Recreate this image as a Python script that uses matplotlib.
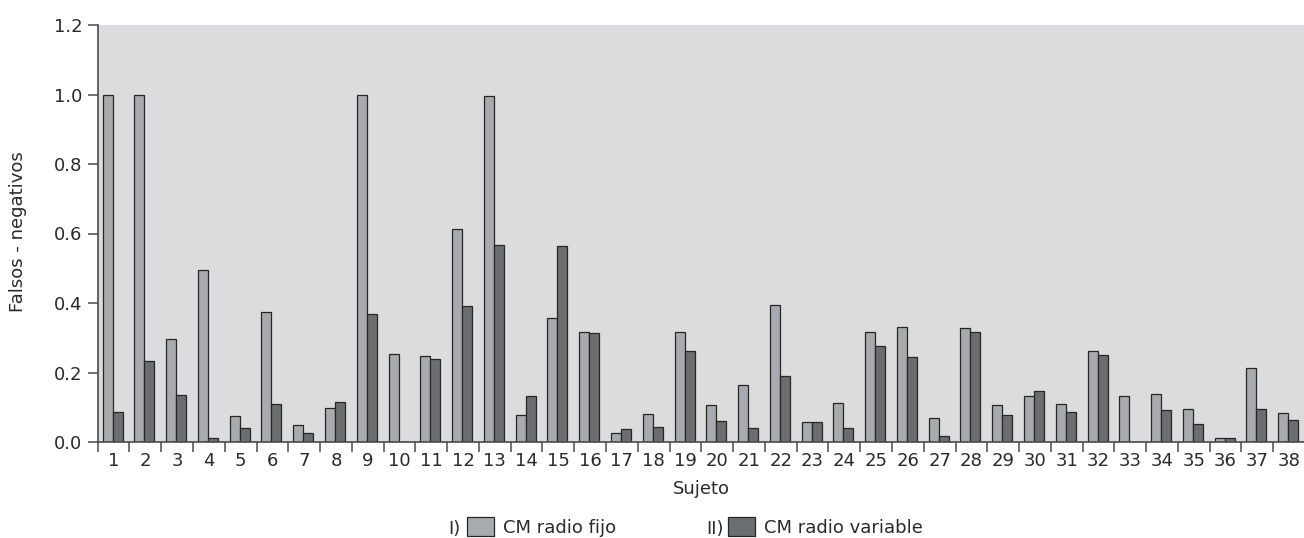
import numpy as np
import matplotlib
matplotlib.use("Agg")
import matplotlib.pyplot as plt
from matplotlib.ticker import FormatStrFormatter, FixedLocator

# Datos: falsos negativos por sujeto
sujetos = list(range(1, 39))
radio_fijo = [1.0, 1.0, 0.297, 0.495, 0.075, 0.374, 0.050, 0.098, 1.0, 0.254,
              0.247, 0.612, 0.996, 0.077, 0.357, 0.317, 0.025, 0.081, 0.317, 0.106,
              0.165, 0.393, 0.058, 0.113, 0.317, 0.330, 0.068, 0.329, 0.107, 0.131,
              0.108, 0.261, 0.132, 0.138, 0.094, 0.012, 0.214, 0.083]
radio_variable = [0.086, 0.234, 0.136, 0.012, 0.040, 0.109, 0.025, 0.114, 0.369, 0.0,
                  0.239, 0.392, 0.568, 0.131, 0.565, 0.313, 0.036, 0.042, 0.262, 0.060,
                  0.040, 0.190, 0.058, 0.040, 0.276, 0.246, 0.017, 0.317, 0.077, 0.148,
                  0.086, 0.249, 0.0, 0.092, 0.052, 0.011, 0.094, 0.064]

plt.rcParams['font.family'] = 'DejaVu Sans'
col_fondo = '#dcdcde'
col_fijo = '#a9aaad'
col_var = '#6c6d70'
col_borde = '#262626'
col_eje = '#4a4a4a'
col_txt = '#2a2a2a'

fig = plt.figure(figsize=(13.04, 5.38), dpi=100)
ax = fig.add_axes([97.7 / 1304, 96 / 538, 1207.3 / 1304, 417 / 538])
ax.set_facecolor(col_fondo)

x = np.array(sujetos)
w = 0.315
b1 = ax.bar(x - w / 2 - 0.03, radio_fijo, w, color=col_fijo, edgecolor=col_borde, linewidth=0.9)
b2 = ax.bar(x + w / 2 - 0.03, radio_variable, w, color=col_var, edgecolor=col_borde, linewidth=0.9)

ax.set_xlim(0.5, 38.5)
ax.set_ylim(0, 1.2)
ax.set_yticks(np.arange(0, 1.21, 0.2))
ax.yaxis.set_major_formatter(FormatStrFormatter('%.1f'))
ax.set_xticks(x)
ax.set_xticklabels([str(s) for s in sujetos])
ax.xaxis.set_minor_locator(FixedLocator(np.arange(0.5, 38.0, 1.0)))

for s in ['top', 'right']:
    ax.spines[s].set_visible(False)
for s in ['left', 'bottom']:
    ax.spines[s].set_color(col_eje)
    ax.spines[s].set_linewidth(1.2)

ax.tick_params(axis='x', which='major', length=0, pad=7, labelsize=13, colors=col_txt)
ax.tick_params(axis='x', which='minor', length=7.2, width=1.1, color=col_eje, direction='out')
ax.tick_params(axis='y', length=7.2, width=1.1, color=col_eje, pad=4, labelsize=13,
               labelcolor=col_txt)

ax.set_xlabel('Sujeto', fontsize=13, color=col_txt)
ax.xaxis.set_label_coords(0.5, -0.092)
fig.text(18 / 1304, (538 - 232) / 538, 'Falsos - negativos', rotation=90,
         ha='center', va='center', fontsize=13, color=col_txt)

# Leyenda
y_ley = (538 - 527) / 538
fig.text(460 / 1304, y_ley, 'I)', ha='right', va='center_baseline', fontsize=13, color=col_txt)
fig.text(724 / 1304, y_ley, 'II)', ha='right', va='center_baseline', fontsize=13, color=col_txt)
fig.legend([b1], ['CM radio fijo'], loc='center left', bbox_to_anchor=(467 / 1304, y_ley),
           frameon=False, fontsize=13, borderpad=0, borderaxespad=0,
           handlelength=1.5, handleheight=1.25, handletextpad=0.5, labelcolor=col_txt)
fig.legend([b2], ['CM radio variable'], loc='center left', bbox_to_anchor=(728 / 1304, y_ley),
           frameon=False, fontsize=13, borderpad=0, borderaxespad=0,
           handlelength=1.5, handleheight=1.25, handletextpad=0.5, labelcolor=col_txt)

fig.savefig('out.png', dpi=100)
